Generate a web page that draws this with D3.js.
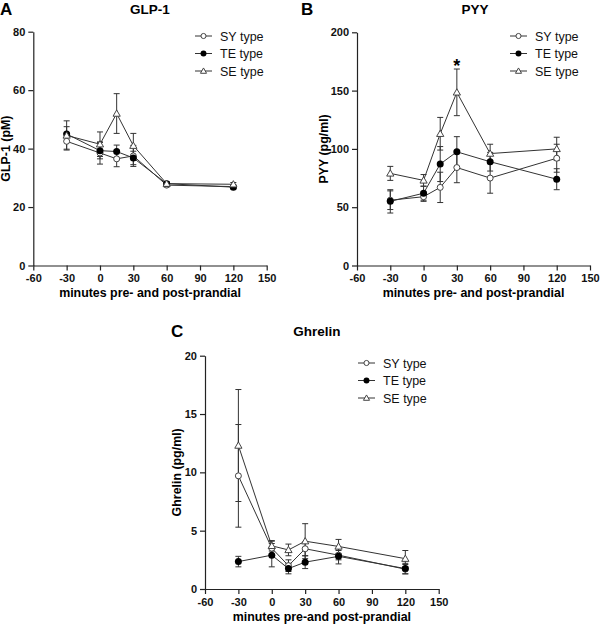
<!DOCTYPE html>
<html><head><meta charset="utf-8">
<script src="https://cdn.jsdelivr.net/npm/d3@7"></script>
<style>body{margin:0;background:#fff}svg{display:block;font-family:"Liberation Sans",Arial,sans-serif}</style>
</head><body><svg id="c" width="600" height="625"></svg>
<script>
const times = [-30, 0, 15, 30, 60, 120];
const seriesNames = ["SY type", "TE type", "SE type"];
const xTicks = [-60, -30, 0, 30, 60, 90, 120, 150];

// GLP-1 (pM)
const glpSY = [42.5, 38.5, 36.5, 37.5, 27.5, 27.0];
const glpSYerr = [2.7, 3.8, 2.7, 3.6, 0.6, 0.6];
const glpTE = [45.0, 39.3, 39.0, 36.8, 28.0, 26.8];
const glpTEerr = [2.5, 2.8, 2.2, 2.3, 0.6, 0.6];
const glpSE = [44.5, 41.5, 52.0, 41.0, 28.0, 27.8];
const glpSEerr = [5.0, 4.2, 6.8, 4.2, 0.6, 0.6];

// PYY (pg/ml)
const pyySY = [56, 59, 67, 84, 75, 92];
const pyySYerr = [8, 4, 13, 13, 13, 12];
const pyyTE = [55, 62, 87, 97.5, 89, 74];
const pyyTEerr = [10, 6, 15, 13, 8, 9];
const pyySE = [79, 73, 113, 148.5, 96, 100];
const pyySEerr = [6, 5, 14, 20, 8, 10];

// Ghrelin (pg/ml)
const ghrSY = [9.7, 3.5, 2.0, 3.45, 2.9, 1.7];
const ghrSYerr = [4.4, 0.6, 0.5, 0.6, 0.4, 0.4];
const ghrTE = [2.35, 2.9, 1.75, 2.3, 2.8, 1.75];
const ghrTEerr = [0.45, 1.0, 0.45, 0.55, 0.65, 0.45];
const ghrSE = [12.3, 3.7, 3.35, 4.1, 3.65, 2.6];
const ghrSEerr = [4.8, 0.45, 0.5, 1.5, 0.6, 0.7];

const svg = d3.select("#c");
const col = "#333";
const fmt = d => String(d);

function panel(o) {
  const g = svg.append("g");
  const x = d3.scaleLinear().domain([-60, 150]).range([o.x0, o.x1]);
  const y = d3.scaleLinear().domain([0, o.ymax]).range([o.y0, o.y1]);
  const xa = g.append("g").attr("transform", `translate(0,${o.y0})`)
    .call(d3.axisBottom(x).tickValues(xTicks).tickFormat(fmt).tickSize(5).tickPadding(4).tickSizeOuter(0));
  const ya = g.append("g").attr("transform", `translate(${o.x0},0)`)
    .call(d3.axisLeft(y).tickValues(o.yTicks).tickFormat(fmt).tickSize(5).tickPadding(3).tickSizeOuter(0));
  [xa, ya].forEach(a => {
    a.selectAll("path,line").attr("stroke", "#222").attr("stroke-width", 1.2);
    a.selectAll("text").attr("fill", "#111").attr("font-size", 11).attr("font-weight", "bold")
      .attr("font-family", '"Liberation Sans",Arial,sans-serif');
  });
  // labels
  g.append("text").attr("x", o.lx).attr("y", o.ly).attr("font-size", 17).attr("font-weight", "bold").text(o.letter);
  g.append("text").attr("x", o.tx).attr("y", o.ty).attr("text-anchor", "middle").attr("font-size", 13.5).attr("font-weight", "bold").text(o.title);
  g.append("text").attr("x", (o.x0 + o.x1) / 2).attr("y", o.y0 + o.xlOff).attr("text-anchor", "middle").attr("font-size", 12.4).attr("font-weight", "bold").text(o.xlabel);
  g.append("text").attr("transform", `translate(${o.ylx},${(o.y0 + o.y1) / 2}) rotate(-90)`).attr("text-anchor", "middle").attr("font-size", 12.4).attr("font-weight", "bold").text(o.ylabel);

  const line = d3.line().x(d => x(d.t)).y(d => y(d.v));
  o.series.forEach((s) => {
    const data = times.map((t, i) => ({ t, v: s.v[i], e: s.e[i] }));
    const sg = g.append("g");
    data.forEach(d => {
      sg.append("line").attr("x1", x(d.t)).attr("x2", x(d.t)).attr("y1", y(d.v - d.e)).attr("y2", y(d.v + d.e)).attr("stroke", col).attr("stroke-width", 1);
      [d.v - d.e, d.v + d.e].forEach(v => sg.append("line").attr("x1", x(d.t) - 3).attr("x2", x(d.t) + 3).attr("y1", y(v)).attr("y2", y(v)).attr("stroke", col).attr("stroke-width", 1));
    });
    sg.append("path").datum(data).attr("d", line).attr("fill", "none").attr("stroke", col).attr("stroke-width", 1);
  });
  o.series.forEach((s, si) => {
    times.forEach((t, i) => marker(g, si, x(t), y(s.v[i])));
  });
  // legend
  seriesNames.forEach((n, i) => {
    const yy = o.legY + i * 17.5;
    g.append("line").attr("x1", o.legX).attr("x2", o.legX + 17).attr("y1", yy).attr("y2", yy).attr("stroke", col).attr("stroke-width", 1);
    marker(g, i, o.legX + 8.5, yy, 0.85);
    g.append("text").attr("x", o.legX + 25).attr("y", yy + 4.5).attr("font-size", 12.5).attr("fill", "#111").text(n);
  });
  return { x, y, g };
}

function marker(g, i, cx, cy, k = 1) {
  if (i === 0) g.append("circle").attr("cx", cx).attr("cy", cy).attr("r", 3 * k).attr("fill", "#fff").attr("stroke", "#444").attr("stroke-width", 1);
  else if (i === 1) g.append("circle").attr("cx", cx).attr("cy", cy).attr("r", 3.5 * k).attr("fill", "#000");
  else {
    const r = 3.6 * k;
    g.append("path").attr("d", `M${cx},${cy - r}L${cx + r},${cy + r * 0.75}L${cx - r},${cy + r * 0.75}Z`).attr("fill", "#fff").attr("stroke", "#444").attr("stroke-width", 1);
  }
}

panel({ x0: 33.3, x1: 266.7, y0: 265.5, y1: 31.7, ymax: 80, yTicks: [0, 20, 40, 60, 80],
  letter: "A", lx: 0, ly: 15, title: "GLP-1", tx: 150, ty: 14, xlabel: "minutes pre- and post-prandial", xlOff: 31,
  ylabel: "GLP-1 (pM)", ylx: 10, legX: 195, legY: 36,
  series: [{ v: glpSY, e: glpSYerr }, { v: glpTE, e: glpTEerr }, { v: glpSE, e: glpSEerr }] });

const pB = panel({ x0: 357, x1: 590, y0: 265.5, y1: 32.3, ymax: 200, yTicks: [0, 50, 100, 150, 200],
  letter: "B", lx: 301, ly: 15, title: "PYY", tx: 475, ty: 14, xlabel: "minutes pre- and post-prandial", xlOff: 31,
  ylabel: "PYY (pg/ml)", ylx: 328, legX: 510, legY: 36,
  series: [{ v: pyySY, e: pyySYerr }, { v: pyyTE, e: pyyTEerr }, { v: pyySE, e: pyySEerr }] });
pB.g.append("text").attr("x", pB.x(30)).attr("y", pB.y(169) + 4).attr("text-anchor", "middle").attr("font-size", 18).attr("font-weight", "bold").text("*");

panel({ x0: 205, x1: 438.7, y0: 589, y1: 355.7, ymax: 20, yTicks: [0, 5, 10, 15, 20],
  letter: "C", lx: 171, ly: 337, title: "Ghrelin", tx: 317, ty: 336, xlabel: "minutes pre-and post-prandial", xlOff: 32,
  ylabel: "Ghrelin (pg/ml)", ylx: 181, legX: 358, legY: 363,
  series: [{ v: ghrSY, e: ghrSYerr }, { v: ghrTE, e: ghrTEerr }, { v: ghrSE, e: ghrSEerr }] });
</script></body></html>
